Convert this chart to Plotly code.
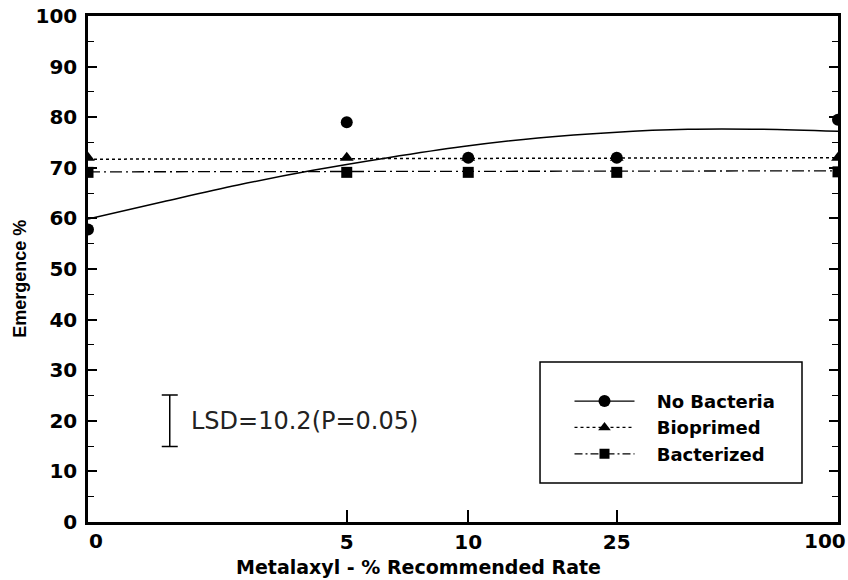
import plotly.graph_objects as go

# ---- data ----
rate_labels = ["0", "5", "10", "25", "100"]
rate_axis_pos = [0.0, 0.345, 0.507, 0.705, 1.0]   # position of each rate on the (non-linear) x axis

no_bacteria = [57.8, 79.0, 72.0, 72.0, 79.5]
bioprimed = [72.0, 72.0, 72.0, 72.0, 72.0]
bacterized = [69.1, 69.1, 69.1, 69.1, 69.2]

# fitted curves
fit_x = [0.0, 0.1, 0.2, 0.3, 0.4, 0.5, 0.6, 0.7, 0.8, 0.9, 1.0]
fit_no_bacteria = [59.9, 63.3, 66.6, 69.5, 72.0, 74.2, 75.9, 77.0, 77.6, 77.6, 77.2]
fit_line_x = [0.0, 1.0]
fit_bioprimed = [71.7, 72.0]
fit_bacterized = [69.2, 69.4]

series_names = ["No Bacteria", "Bioprimed", "Bacterized"]

lsd_value = 10.2
lsd_center = 20.0

BOLD = "DejaVu Sans"
fig = go.Figure()

# fitted lines
fig.add_trace(go.Scatter(x=fit_x, y=fit_no_bacteria, mode="lines", line=dict(color="black", width=1.5, shape="spline"),
                         showlegend=False, hoverinfo="skip"))
fig.add_trace(go.Scatter(x=fit_line_x, y=fit_bioprimed, mode="lines", line=dict(color="black", width=1.5, dash="dot"),
                         showlegend=False, hoverinfo="skip"))
fig.add_trace(go.Scatter(x=fit_line_x, y=fit_bacterized, mode="lines", line=dict(color="black", width=1.3, dash="12px,4px,2px,4px"),
                         showlegend=False, hoverinfo="skip"))

# observed points
fig.add_trace(go.Scatter(x=rate_axis_pos, y=no_bacteria, mode="markers",
                         marker=dict(symbol="circle", size=12, color="black"), showlegend=False))
fig.add_trace(go.Scatter(x=rate_axis_pos, y=bioprimed, mode="markers",
                         marker=dict(symbol="triangle-up", size=12, color="black"), showlegend=False))
fig.add_trace(go.Scatter(x=rate_axis_pos, y=bacterized, mode="markers",
                         marker=dict(symbol="square", size=11, color="black"), showlegend=False))

# legend entries
pad = "\u00a0\u00a0\u00a0"
fig.add_trace(go.Scatter(x=[None], y=[None], mode="lines+markers", name=pad + "<b>" + series_names[0] + "</b>",
                         line=dict(color="black", width=1.3), marker=dict(symbol="circle", size=12, color="black")))
fig.add_trace(go.Scatter(x=[None], y=[None], mode="lines+markers", name=pad + "<b>" + series_names[1] + "</b>",
                         line=dict(color="black", width=1.3, dash="dot"), marker=dict(symbol="triangle-up", size=11, color="black")))
fig.add_trace(go.Scatter(x=[None], y=[None], mode="lines+markers", name=pad + "<b>" + series_names[2] + "</b>",
                         line=dict(color="black", width=1.3, dash="8px,3px,2px,3px"), marker=dict(symbol="square", size=10, color="black")))

# LSD bar
fig.add_trace(go.Scatter(x=[0.109], y=[lsd_center], mode="markers", marker=dict(size=0.1, color="rgba(0,0,0,0)"),
                         error_y=dict(type="constant", value=lsd_value / 2, color="black", thickness=1.5, width=8),
                         showlegend=False, hoverinfo="skip"))
fig.add_annotation(x=0.135, y=lsd_center, xref="x", yref="y", text="LSD=10.2(P=0.05)", showarrow=False,
                   xanchor="left", yanchor="middle", font=dict(family="DejaVu Sans", size=24, color="#222"))

# end tick labels (shifted inward as in the reference)
fig.add_annotation(x=rate_axis_pos[0], y=0, xref="x", yref="paper", text="<b>" + rate_labels[0] + "</b>", showarrow=False,
                   xanchor="left", yanchor="top", xshift=-1, yshift=-5, font=dict(family=BOLD, size=20, color="black"))
fig.add_annotation(x=rate_axis_pos[-1], y=0, xref="x", yref="paper", text="<b>" + rate_labels[-1] + "</b>", showarrow=False,
                   xanchor="right", yanchor="top", xshift=10, yshift=-5, font=dict(family=BOLD, size=20, color="black"))

# axis titles
fig.add_annotation(x=0.441, y=-0.089, xref="paper", yref="paper", text="<b>Metalaxyl - % Recommended Rate</b>",
                   showarrow=False, xanchor="center", yanchor="middle", font=dict(family=BOLD, size=19, color="black"))
fig.add_annotation(x=-0.091, y=0.480, xref="paper", yref="paper", text="<b>Emergence %</b>", textangle=-90,
                   showarrow=False, xanchor="center", yanchor="middle", font=dict(family="Liberation Sans", size=18, color="black"))

# legend box
fig.add_shape(type="rect", xref="paper", yref="paper", x0=0.6027, x1=0.952, y0=0.0771, y1=0.3162,
              line=dict(color="black", width=1.5), fillcolor="white", layer="below")

fig.update_layout(
    width=848, height=580,
    margin=dict(l=88, r=10, t=16, b=58),
    paper_bgcolor="white", plot_bgcolor="white",
    showlegend=True,
    legend=dict(x=0.642, y=0.275, xanchor="left", yanchor="top", bgcolor="rgba(0,0,0,0)", borderwidth=0,
                font=dict(family=BOLD, size=18, color="black"), itemwidth=60, tracegroupgap=0),
    xaxis=dict(range=[0, 1], tickvals=rate_axis_pos[1:4], ticktext=["<b>%s</b>" % t for t in rate_labels[1:4]],
               ticks="inside", ticklen=12, tickwidth=1.5, tickcolor="black", automargin=False,
               showline=True, linecolor="black", linewidth=2.5, mirror=True, showgrid=False, zeroline=False,
               tickfont=dict(family=BOLD, size=20, color="black")),
    yaxis=dict(range=[0, 100], dtick=10, ticks="inside", ticklen=9, tickwidth=1.5, tickcolor="black", automargin=False,
               minor=dict(dtick=5, ticks="inside", ticklen=6, tickwidth=1.2, tickcolor="black"),
               showline=True, linecolor="black", linewidth=2.5, mirror="ticks", showgrid=False, zeroline=False,
               tickfont=dict(family=BOLD, size=20, color="black"), ticklabelstandoff=4, ticklabeloverflow="allow",
               tickformat="d", tickprefix="<b>", ticksuffix="</b>"),
)

# remove the browser's default 8px page margin so the 848x580 figure fills the window exactly
fig.write_html("out.html", config={"displayModeBar": False},
               post_script="document.body.style.margin='0px';document.body.style.overflow='hidden';")
